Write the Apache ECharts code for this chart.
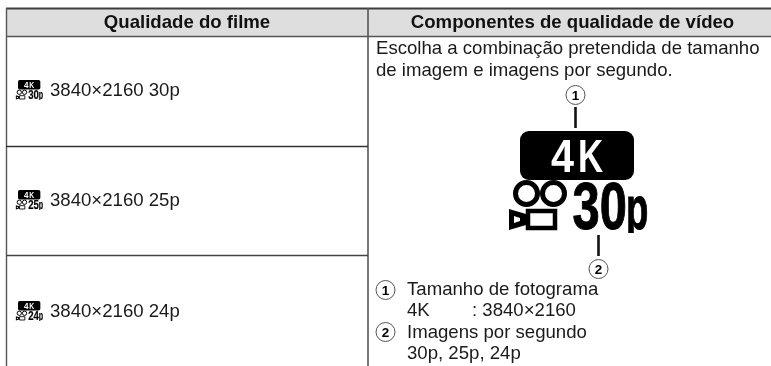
<!DOCTYPE html>
<html><head><meta charset="utf-8">
<style>html,body{margin:0;padding:0;background:#fff}#c{width:771px;height:366px}</style>
<script src="https://cdn.jsdelivr.net/npm/echarts@6/dist/echarts.min.js"></script>
</head><body><div id="c"></div>
<script>
const headers = ['Qualidade do filme', 'Componentes de qualidade de vídeo'];
const modeSizes = ['3840×2160 30p', '3840×2160 25p', '3840×2160 24p'];
const modeRates = ['30', '25', '24'];
const introLines = ['Escolha a combinação pretendida de tamanho', 'de imagem e imagens por segundo.'];
const noteLines = ['Tamanho de fotograma', '4K', ': 3840×2160', 'Imagens por segundo', '30p, 25p, 24p'];
const callouts = ['1', '2'];
const iconTag = ['4', 'K'];

const F = '"Liberation Sans", Arial, sans-serif';
const els = [];
const line = (x1,y1,x2,y2,w,c) => ({type:'line',shape:{x1,y1,x2,y2},style:{stroke:c,lineWidth:w}});
// baseline-positioned text
function label(t,x,base,size,o={}){
  const weight = o.bold ? 'bold ' : '';
  const style = {text:t,fill:o.fill||'#1a1a1a',font:weight+size+'px '+F,align:o.align||'left',verticalAlign:'middle'};
  if (o.heavy) { style.stroke = o.fill; style.lineWidth = o.heavy; }
  return {type:'text',x,y:base-0.29*size,scaleX:o.scaleX||1,style};
}

els.push({type:'rect',shape:{x:7,y:9,width:764,height:27},style:{fill:'#dedede'}});
els.push(line(6,8.5,771,8.5,1.8,'#3c3c3c'));
els.push(line(6,36.5,771,36.5,1.6,'#555'));
els.push(line(6.5,8,6.5,366,1.4,'#555'));
els.push(line(368,8,368,366,1.6,'#555'));
els.push(line(6,146.5,368,146.5,1.4,'#333'));
els.push(line(6,255.5,368,255.5,1.4,'#444'));
els.push(label(headers[0],187,28,18.6,{bold:true,align:'center',fill:'#111'}));
els.push(label(headers[1],572.5,28,18.6,{bold:true,align:'center',fill:'#111'}));

function icon(ox,oy,s,rate){
  const c = [
    {type:'rect',shape:{x:0,y:0,width:114,height:49,r:9},style:{fill:'#000'}},
    label(iconTag[0],31,42,47,{bold:true,fill:'#fff',scaleX:0.88}),
    label(iconTag[1],58,42,47,{bold:true,fill:'#fff',scaleX:0.74}),
    {type:'circle',shape:{cx:6.5,cy:62.5,r:11},style:{fill:'none',stroke:'#000',lineWidth:5}},
    {type:'circle',shape:{cx:33.5,cy:62.5,r:11},style:{fill:'none',stroke:'#000',lineWidth:5}},
    {type:'rect',shape:{x:8,y:80,width:27,height:17},style:{fill:'none',stroke:'#000',lineWidth:4.5}},
    {type:'polygon',shape:{points:[[-11,78],[6,83],[6,94],[-11,99]]},style:{fill:'#000'}},
    {type:'polygon',shape:{points:[[-6,85],[0,87],[0,90],[-6,92]]},style:{fill:'#fff'}},
    label(rate,52.5,98.5,66,{bold:true,fill:'#000',scaleX:0.74,heavy:1}),
    label('p',106,98.5,61,{bold:true,fill:'#000',scaleX:0.6,heavy:1}),
    {type:'rect',shape:{x:100,y:102,width:40,height:12},style:{fill:'#fff'}}
  ];
  return {type:'group',x:ox,y:oy,scaleX:s,scaleY:s,children:c};
}
const rowBase = [96.3,206.3,317.3], rowIconTop = [80,190,301];
modeSizes.forEach((m,i)=>{
  els.push(icon(18,rowIconTop[i],0.196,modeRates[i]));
  els.push(label(m,50,rowBase[i],18.6));
});
els.push(label(introLines[0],376,54.3,18.6));
els.push(label(introLines[1],376,76.3,18.6));

function circled(t,cx,cy,r,size){
  els.push({type:'circle',shape:{cx,cy,r},style:{fill:'#fff',stroke:'#555',lineWidth:1}});
  els.push(label(t,cx,cy+size*0.36,size,{bold:true,align:'center',fill:'#000'}));
}
circled(callouts[0],575.5,95,9.5,13.5);
els.push(line(575.5,107,575.5,128,2.6,'#111'));
els.push(icon(520,131,1,modeRates[0]));
els.push(line(598.5,235,598.5,256,2.6,'#111'));
circled(callouts[1],598.5,269,9.5,13.5);
circled(callouts[0],385.5,290,9.5,13.5);
circled(callouts[1],385.5,332,9.5,13.5);
els.push(label(noteLines[0],407,295.3,18.6));
els.push(label(noteLines[1],407,316.3,18.6));
els.push(label(noteLines[2],472,316.3,18.6));
els.push(label(noteLines[3],407,338.3,18.6));
els.push(label(noteLines[4],407,359.3,18.6));

const chart = echarts.init(document.getElementById('c'),null,{renderer:'canvas'});
chart.setOption({backgroundColor:'#fff',animation:false,graphic:{elements:els}});
</script></body></html>
